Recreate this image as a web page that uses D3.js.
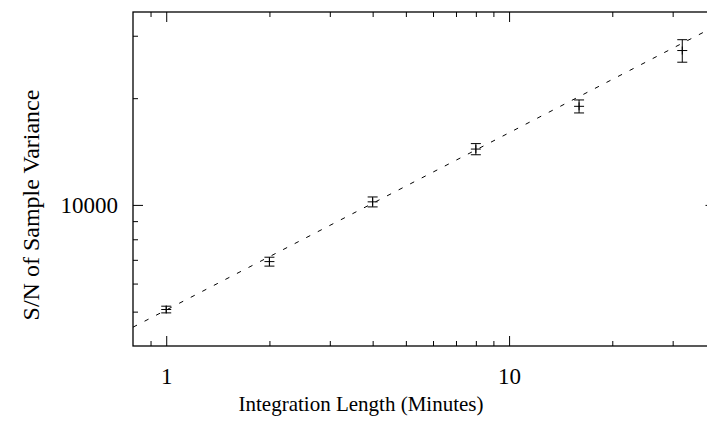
<!DOCTYPE html>
<html>
<head>
<meta charset="utf-8">
<script src="https://cdn.jsdelivr.net/npm/d3@7"></script>
<style>
  body { margin: 0; background: #fff; }
  text { font-family: "Liberation Serif", "Times New Roman", serif; fill: #000; }
</style>
</head>
<body>
<div id="chart"></div>
<script>
// Data
const minutes = [1, 2, 4, 8, 16, 32];
const snr     = [5070, 6920, 10200, 14370, 18970, 27250];
const snrErr  = [110, 200, 330, 520, 800, 1990];

// fitted power-law, drawn as a dashed line between its two end points
const fitX = [0.8, 40];
const fitY = [4520, 31940];

const xMajorTicks = [1, 10];
const xMinorTicks = [0.9, 2, 3, 4, 5, 6, 7, 8, 9, 20, 30, 40];
const yMajorTicks = [10000];
const yMinorTicks = [5000, 6000, 7000, 8000, 9000, 20000, 30000];

const W = 707, H = 430;
// plot frame (right edge runs a bit past the picture)
const plotL = 133, plotT = 12, plotR = 715.5, plotB = 346;

const svg = d3.select("#chart").append("svg")
  .attr("width", W)
  .attr("height", H);

svg.append("rect").attr("width", W).attr("height", H).attr("fill", "#fff");

const x = d3.scaleLog().domain([0.8, 40]).range([plotL, plotR]);
const y = d3.scaleLog().domain([4000, 35000]).range([plotB, plotT]);

const fmt = d3.format("d");

// ticks point inward on all four sides
function drawAxis(gen, tx, ty) {
  const g = svg.append("g")
    .attr("transform", `translate(${tx},${ty})`)
    .call(gen);
  g.select(".domain").remove();
  g.selectAll("line").attr("stroke", "#000").attr("stroke-width", 1);
  g.selectAll("text")
    .attr("font-size", 23)
    .attr("fill", "#000")
    .style("font-family", '"Liberation Serif", serif');
  return g;
}

drawAxis(d3.axisBottom(x).tickValues(xMajorTicks).tickSizeInner(-10).tickSizeOuter(0)
  .tickPadding(22).tickFormat(fmt), 0, plotB);
drawAxis(d3.axisBottom(x).tickValues(xMinorTicks).tickSizeInner(-5).tickSizeOuter(0)
  .tickFormat(""), 0, plotB);
drawAxis(d3.axisTop(x).tickValues(xMajorTicks).tickSizeInner(-10).tickSizeOuter(0)
  .tickFormat(""), 0, plotT);
drawAxis(d3.axisTop(x).tickValues(xMinorTicks).tickSizeInner(-5).tickSizeOuter(0)
  .tickFormat(""), 0, plotT);

drawAxis(d3.axisLeft(y).tickValues(yMajorTicks).tickSizeInner(-10).tickSizeOuter(0)
  .tickPadding(15).tickFormat(fmt), plotL, 0);
drawAxis(d3.axisLeft(y).tickValues(yMinorTicks).tickSizeInner(-5).tickSizeOuter(0)
  .tickFormat(""), plotL, 0);
drawAxis(d3.axisRight(y).tickValues(yMajorTicks).tickSizeInner(-10).tickSizeOuter(0)
  .tickFormat(""), plotR, 0);
drawAxis(d3.axisRight(y).tickValues(yMinorTicks).tickSizeInner(-5).tickSizeOuter(0)
  .tickFormat(""), plotR, 0);

// frame
svg.append("rect")
  .attr("x", plotL).attr("y", plotT)
  .attr("width", plotR - plotL).attr("height", plotB - plotT)
  .attr("fill", "none").attr("stroke", "#000").attr("stroke-width", 1.3);

// clip for the data
svg.append("clipPath").attr("id", "plotclip")
  .append("rect").attr("x", plotL).attr("y", plotT)
  .attr("width", plotR - plotL).attr("height", plotB - plotT);

const plot = svg.append("g").attr("clip-path", "url(#plotclip)");

// dashed fit line
const fitPts = fitX.map((d, i) => [d, fitY[i]]);
plot.append("path")
  .datum(fitPts)
  .attr("d", d3.line().x(d => x(d[0])).y(d => y(d[1])))
  .attr("fill", "none")
  .attr("stroke", "#000")
  .attr("stroke-width", 1)
  .attr("stroke-dasharray", "4.5,8.5");

// error bars with point markers
const pts = minutes.map((m, i) => ({m: m, v: snr[i], e: snrErr[i]}));
const cap = 5;
const bars = plot.selectAll("g.bar").data(pts).join("g").attr("class", "bar")
  .attr("stroke", "#000").attr("stroke-width", 1);

bars.append("line")
  .attr("x1", d => x(d.m)).attr("x2", d => x(d.m))
  .attr("y1", d => y(d.v - d.e)).attr("y2", d => y(d.v + d.e));
bars.append("line")
  .attr("x1", d => x(d.m) - cap).attr("x2", d => x(d.m) + cap)
  .attr("y1", d => y(d.v + d.e)).attr("y2", d => y(d.v + d.e));
bars.append("line")
  .attr("x1", d => x(d.m) - cap).attr("x2", d => x(d.m) + cap)
  .attr("y1", d => y(d.v - d.e)).attr("y2", d => y(d.v - d.e));
// "+" marker
bars.append("line")
  .attr("x1", d => x(d.m) - cap).attr("x2", d => x(d.m) + cap)
  .attr("y1", d => y(d.v)).attr("y2", d => y(d.v));
bars.append("line")
  .attr("x1", d => x(d.m)).attr("x2", d => x(d.m))
  .attr("y1", d => y(d.v) - 4).attr("y2", d => y(d.v) + 4);

// axis titles
svg.append("text")
  .attr("x", 361).attr("y", 411)
  .attr("text-anchor", "middle")
  .attr("font-size", 21)
  .text("Integration Length (Minutes)");

svg.append("text")
  .attr("transform", "translate(39,205) rotate(-90)")
  .attr("text-anchor", "middle")
  .attr("font-size", 24)
  .text("S/N of Sample Variance");
</script>
</body>
</html>
